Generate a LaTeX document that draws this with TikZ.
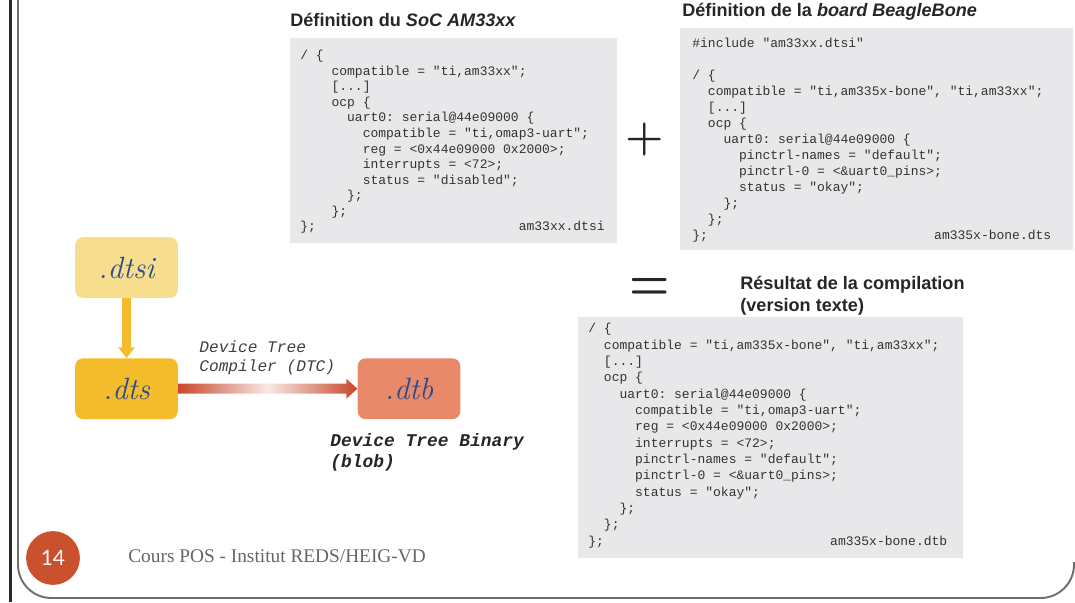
\documentclass[tikz,border=0pt]{standalone}
\usepackage{fontspec}
\setsansfont{Liberation Sans}
\setmonofont{Liberation Mono}
\newfontfamily\footfont{Liberation Serif}
\newfontfamily\numfont{Lato}
\usepackage{graphicx}
\usepackage{tikz}
\usetikzlibrary{calc, arrows.meta, positioning}

\definecolor{codebg}{HTML}{E8E8EA}
\definecolor{codetext}{HTML}{333333}
\definecolor{dtsifill}{HTML}{F7DE8E}
\definecolor{dtsfill}{HTML}{F4BB2A}
\definecolor{dtbfill}{HTML}{E8896A}
\definecolor{extblue}{HTML}{2C4A8A}
\definecolor{arrowred}{HTML}{C8472A}
\definecolor{circred}{HTML}{C9512D}
\definecolor{footgray}{HTML}{666666}
\definecolor{framegray}{HTML}{6E6E6E}
\definecolor{barblack}{HTML}{2A2A2A}

\tikzset{
    filebox/.style={rounded corners=4.5pt, minimum width=58.4pt, minimum height=34.6pt,
        inner sep=0pt, text=extblue, font=\fontsize{17.5}{20}\selectfont\itshape},
    code/.style={anchor=north west, align=left, inner sep=0pt, text=codetext,
        font=\fontsize{7.4}{9.1}\selectfont\ttfamily},
    title/.style={anchor=west, align=left, inner sep=0pt, text=black!85,
        font=\fontsize{10.3}{12.5}\selectfont\sffamily\bfseries},
    dtclabel/.style={anchor=north west, align=left, inner sep=0pt, text=black!75,
        font=\fontsize{9.2}{11.3}\selectfont\ttfamily\itshape},
    sign/.style={inner sep=0pt, text=black!85, font=\fontsize{25}{25}\selectfont\bfseries}
}

\begin{document}
\begin{tikzpicture}[x=0.02cm, y=-0.02cm]
        \useasboundingbox (0,0) rectangle (1075,602);
        \draw[barblack, line width=1.8pt] (10.5,0) -- (10.5,602);
        \draw[framegray, line width=1.1pt, rounded corners=19pt] (18,-10) -- (18,598) -- (1074,598) -- (1074,562);

        \node[title] (soc title) at (290,20) {Définition du \textit{SoC AM33xx}};
        \node[title] (board title) at (682,12) {Définition de la \textit{board BeagleBone}};
        \node[title] (result title) at (740,296) {Résultat de la compilation\\(version texte)};

        \fill[codebg] (290,38) rectangle (617,243);
        \fill[codebg] (680,28) rectangle (1073,250);
        \fill[codebg] (578,317) rectangle (963,558);

        \node[code, font=\fontsize{7.4}{8.85}\selectfont\ttfamily] (soc code) at (300,50) {/ \{\\
~~~~compatible = "ti,am33xx";\\
~~~~[...]\\
~~~~ocp \{\\
~~~~~~uart0: serial@44e09000 \{\\
~~~~~~~~compatible = "ti,omap3-uart";\\
~~~~~~~~reg = <0x44e09000 0x2000>;\\
~~~~~~~~interrupts = <72>;\\
~~~~~~~~status = "disabled";\\
~~~~~~\};\\
~~~~\};\\
\};~~~~~~~~~~~~~~~~~~~~~~~~~~am33xx.dtsi};

        \node[code] (board code) at (692,38) {\#include "am33xx.dtsi"\\[9.1pt]
/ \{\\
~~compatible = "ti,am335x-bone", "ti,am33xx";\\
~~[...]\\
~~ocp \{\\
~~~~uart0: serial@44e09000 \{\\
~~~~~~pinctrl-names = "default";\\
~~~~~~pinctrl-0 = <\&uart0\_pins>;\\
~~~~~~status = "okay";\\
~~~~\};\\
~~\};\\
\};~~~~~~~~~~~~~~~~~~~~~~~~~~~~~am335x-bone.dts};

        \node[code, font=\fontsize{7.4}{9.3}\selectfont\ttfamily] (result code) at (588,323) {/ \{\\
~~compatible = "ti,am335x-bone", "ti,am33xx";\\
~~[...]\\
~~ocp \{\\
~~~~uart0: serial@44e09000 \{\\
~~~~~~compatible = "ti,omap3-uart";\\
~~~~~~reg = <0x44e09000 0x2000>;\\
~~~~~~interrupts = <72>;\\
~~~~~~pinctrl-names = "default";\\
~~~~~~pinctrl-0 = <\&uart0\_pins>;\\
~~~~~~status = "okay";\\
~~~~\};\\
~~\};\\
\};~~~~~~~~~~~~~~~~~~~~~~~~~~~~~am335x-bone.dtb};

        \node[sign] (plus) at (645,140) {+};
        \node[sign] (equals) at (650,289) {\scalebox{1.05}[1.3]{=}};

        \node[filebox, fill=dtsifill] (dtsi) at (126.5,267.5) {.dtsi};
        \node[filebox, fill=dtsfill, below=34pt of dtsi] (dts) {.dts};
        \node[filebox, fill=dtbfill, right=102pt of dts] (dtb) {.dtb};

        \draw[dtsfill, line width=5pt, -{Triangle[width=9pt,length=6pt]}] (dtsi.south) -- (dts.north);
        \shade[left color=arrowred, right color=arrowred, middle color=white!88!arrowred]
            ($(dts.east)+(0,-5)$) -- ($(dtb.west)+(-11,-5)$) -- ($(dtb.west)+(-11,-10)$) -- (dtb.west)
            -- ($(dtb.west)+(-11,10)$) -- ($(dtb.west)+(-11,5)$) -- ($(dts.east)+(0,5)$) -- cycle;

        \node[dtclabel] (dtc label) at (199,340) {Device Tree\\Compiler (DTC)};
        \node[dtclabel, font=\fontsize{10.2}{12}\selectfont\ttfamily\bfseries\itshape, text=black!85]
            (dtb label) at (330,433) {Device Tree Binary\\(blob)};

        \node[circle, fill=circred, minimum size=30.6pt, inner sep=0pt, text=white,
            font=\numfont\fontsize{12}{14}\selectfont] (page) at (53,558) {14};
        \node[anchor=west, inner sep=0pt, text=footgray, font=\footfont\fontsize{11}{13}\selectfont]
            (footer) at (128,556) {Cours POS - Institut REDS/HEIG-VD};
\end{tikzpicture}
\end{document}
